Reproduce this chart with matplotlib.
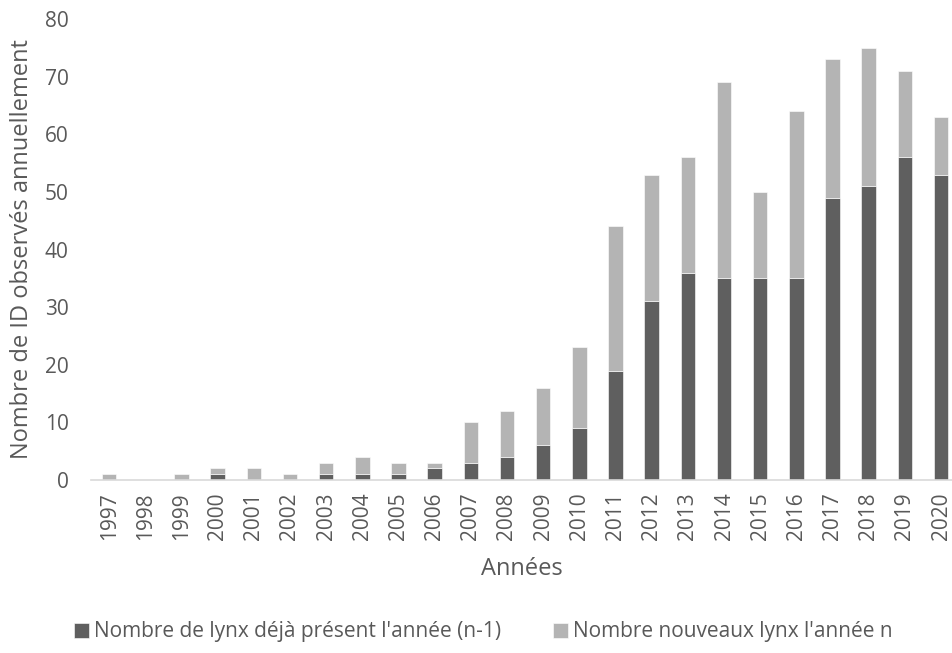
import numpy as np
import matplotlib
matplotlib.use("Agg")
import matplotlib.pyplot as plt

plt.rcParams['font.family'] = ['Open Sans', 'DejaVu Sans']

years = [str(y) for y in range(1997, 2021)]
# lynx already present the year before (dark)
deja_present = [0, 0, 0, 1, 0, 0, 1, 1, 1, 2, 3, 4, 6, 9, 19, 31, 36, 35, 35, 35, 49, 51, 56, 53]
# total identified each year
total = [1, 0, 1, 2, 2, 1, 3, 4, 3, 3, 10, 12, 16, 23, 44, 53, 56, 69, 50, 64, 73, 75, 71, 63]
nouveaux = [t - d for t, d in zip(total, deja_present)]

dark = '#5f5f5f'
light = '#b4b4b4'
txt = '#595959'

fig = plt.figure(figsize=(9.53, 6.53), dpi=100)
ax = fig.add_axes([91 / 953, 1 - 480 / 653, 1 - 91 / 953, (480 - 19) / 653])

x = np.arange(len(years))
ax.bar(x, deja_present, width=0.4, color=dark, edgecolor='white', linewidth=0.4,
       label="Nombre de lynx déjà présent l'année (n-1)")
ax.bar(x, nouveaux, width=0.4, bottom=deja_present, color=light, edgecolor='white',
       linewidth=0.4, label="Nombre nouveaux lynx l'année n")

ax.set_xlim(-0.5, 23.33)
ax.set_ylim(0, 80)
ax.set_yticks(range(0, 81, 10))
ax.set_xticks(x)
ax.set_xticklabels(years, rotation=90)

for side in ['top', 'right', 'left']:
    ax.spines[side].set_visible(False)
ax.spines['bottom'].set_color('#d9d9d9')
ax.spines['bottom'].set_linewidth(1.2)
ax.tick_params(axis='both', length=0, labelsize=15, colors=txt)
ax.tick_params(axis='x', pad=9)
ax.tick_params(axis='y', pad=16)

ax.set_ylabel('Nombre de ID observés annuellement', fontsize=17, color=txt, labelpad=8)
ax.set_xlabel('Années', fontsize=17, color=txt, labelpad=12)

fig.legend(loc='center', bbox_to_anchor=(0.507, 1 - 632 / 653), ncol=2, frameon=False,
           fontsize=15, handlelength=0.7, handleheight=0.7, handletextpad=0.25,
           columnspacing=2.5, labelcolor=txt)

fig.savefig('out.png', dpi=100)
